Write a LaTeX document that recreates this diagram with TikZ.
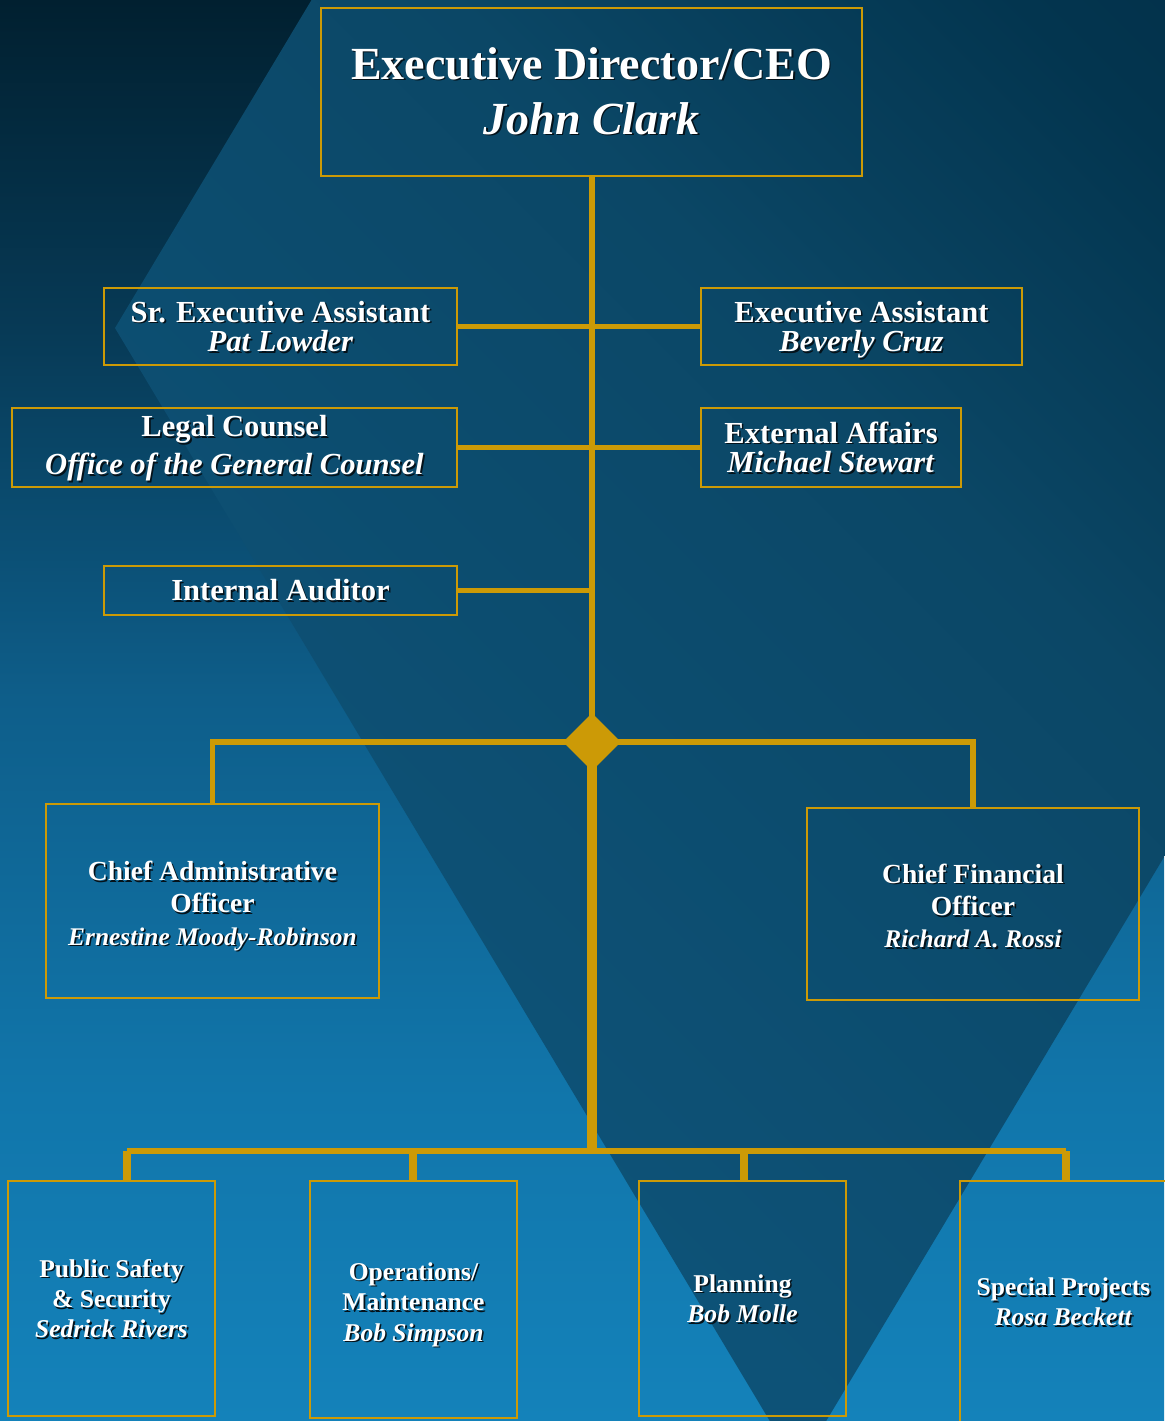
\documentclass[tikz,border=0pt]{standalone}
\usepackage{fontspec}
\setmainfont{Liberation Serif}
\usetikzlibrary{shapes.geometric,fit,calc}

% palette
\definecolor{gold}{HTML}{CC9A06}
\definecolor{txtshadow}{HTML}{05121A}
\definecolor{bgA}{HTML}{012030}
\definecolor{bgB}{HTML}{073A56}
\definecolor{bgC}{HTML}{0E5E8A}
\definecolor{bgD}{HTML}{1176AB}
\definecolor{bgE}{HTML}{1482BA}
\definecolor{rA}{HTML}{0E567C}
\definecolor{rB}{HTML}{0D5277}
\definecolor{rC}{HTML}{0C4A6B}
\definecolor{rD}{HTML}{0B4766}
\definecolor{rE}{HTML}{03354F}
\definecolor{rF}{HTML}{022C44}

% backdrop: vertical blend, dark at the top
\pgfdeclareverticalshading{bgshade}{100bp}{color(0bp)=(bgE); color(25bp)=(bgE);
  color(36.3bp)=(bgD); color(50.4bp)=(bgC); color(63.4bp)=(bgB); color(75bp)=(bgA); color(100bp)=(bgA)}
% large rhombus: darker towards the upper right
\pgfdeclarehorizontalshading{rhombshade}{100bp}{color(0bp)=(rA); color(14.6bp)=(rA);
  color(35.7bp)=(rB); color(48.8bp)=(rC); color(53.4bp)=(rD); color(63bp)=(rE); color(71bp)=(rF); color(100bp)=(rF)}

% text with a small dark drop shadow
\newcommand\shad[1]{\leavevmode\rlap{\kern0.8pt\raisebox{-0.8pt}[0pt][0pt]{\color{txtshadow}#1}}#1}

\tikzset{
  orgbox/.style={draw=gold, line width=1.1pt, inner sep=0pt},
  label text/.style={text=white, align=center, inner sep=0pt, anchor=center},
  ceofont/.style={font=\fontsize{23}{27.5}\selectfont\bfseries},
  midfont/.style={font=\fontsize{15.3}{14.8}\selectfont\bfseries},
  legalfont/.style={font=\fontsize{15.3}{19}\selectfont\bfseries},
  chieffont/.style={font=\fontsize{13.8}{16.2}\selectfont\bfseries},
  lowfont/.style={font=\fontsize{12.8}{15.2}\selectfont\bfseries},
  hubshape/.style={diamond, fill=gold, inner sep=0pt, minimum width=29pt, minimum height=29pt},
  trunkline/.style={draw=gold, line width=3pt},
  lowtrunk/.style={draw=gold, line width=4.6pt},
  branch/.style={draw=gold, line width=2.8pt},
  busline/.style={draw=gold, line width=3.4pt},
  dropline/.style={draw=gold, line width=3.6pt},
}

\begin{document}
\begin{tikzpicture}[x=0.5pt,y=-0.5pt]
\useasboundingbox (0,0) rectangle (1164,1421);

% background
\shade[shading=bgshade] (0,0) rectangle (1164,1421);
\begin{scope}
  \clip (115,328) -- (798,-812) -- (1481,328) -- (798,1468) -- cycle;
  \shade[shading=rhombshade, shading angle=45] (-400,-650) rectangle (1700,1450);
\end{scope}

% boxes
\node[orgbox, fit={(321,8) (862,176)}] (ceo) {};
\node[orgbox, fit={(104,288) (457,365)}] (sea) {};
\node[orgbox, fit={(701,288) (1022,365)}] (ea) {};
\node[orgbox, fit={(12,408) (457,487)}] (legal) {};
\node[orgbox, fit={(701,408) (961,487)}] (ext) {};
\node[orgbox, fit={(104,566) (457,615)}] (ia) {};
\node[orgbox, fit={(46,804) (379,998)}] (cao) {};
\node[orgbox, fit={(807,808) (1139,1000)}] (cfo) {};
\node[orgbox, fit={(8,1181) (215,1416)}] (ps) {};
\node[orgbox, fit={(310,1181) (517,1418)}] (ops) {};
\node[orgbox, fit={(639,1181) (846,1416)}] (plan) {};
\node[orgbox, fit={(960,1181) (1167,1423)}] (spec) {};

% box texts
\node[label text, ceofont] (ceo-t) at ([yshift=0.5pt]ceo.center)
  {\shad{Executive Director/CEO}\\\shad{\textit{John Clark}}};
\node[label text, midfont] (sea-t) at (sea.center)
  {\shad{Sr. Executive Assistant}\\\shad{\textit{Pat Lowder}}};
\node[label text, midfont] (ea-t) at ([yshift=-1.5pt]ea.center)
  {\shad{Executive Assistant}\\\shad{\textit{Beverly Cruz}}};
\node[label text, legalfont] (legal-t) at ([yshift=-0.5pt]legal.center)
  {\shad{Legal Counsel}\\\shad{\textit{Office of the General Counsel}}};
\node[label text, midfont] (ext-t) at (ext.center)
  {\shad{External Affairs}\\\shad{\textit{Michael Stewart}}};
\node[label text, midfont] (ia-t) at (ia.center)
  {\shad{Internal Auditor}};
\node[label text, chieffont] (cao-t) at ([yshift=-2.5pt]cao.center)
  {\shad{Chief Administrative}\\\shad{Officer}\\\shad{\fontsize{12.7}{16.2}\selectfont\textit{Ernestine Moody-Robinson}}};
\node[label text, chieffont] (cfo-t) at ([yshift=-1pt]cfo.center)
  {\shad{Chief Financial}\\\shad{Officer}\\\shad{\fontsize{12.7}{16.2}\selectfont\textit{Richard A. Rossi}}};
\node[label text, lowfont] (ps-t) at (ps.center)
  {\shad{Public Safety}\\\shad{\& Security}\\\shad{\textit{Sedrick Rivers}}};
\node[label text, lowfont] (ops-t) at ([yshift=-2.5pt]ops.center)
  {\shad{Operations/}\\\shad{Maintenance}\\\shad{\textit{Bob Simpson}}};
\node[label text, lowfont] (plan-t) at (plan.center)
  {\shad{Planning}\\\shad{\textit{Bob Molle}}};
\node[label text, lowfont] (spec-t) at (spec.center)
  {\shad{Special Projects}\\\shad{\textit{Rosa Beckett}}};

% junction points
\coordinate (hubpos) at (592,742);
\coordinate (bus) at (592,1151);
\coordinate (d1) at (127,1151);
\coordinate (d2) at (413,1151);
\coordinate (d3) at (744,1151);
\coordinate (d4) at (1066,1151);

% connectors
\draw[trunkline] (hubpos |- ceo.south) -- (hubpos);
\draw[branch] (sea.east) -- (ea.west);
\draw[branch] (legal.east) -- (ext.west);
\draw[branch] (ia.east) -- (ia.east -| hubpos);
\draw[branch] (hubpos) -| (cao.north);
\draw[branch] (hubpos) -| (cfo.north);
\draw[lowtrunk] (hubpos) -- (bus);
\draw[busline] (d1) -- (d4);
\draw[dropline] (d1) -- (d1 |- ps.north);
\draw[dropline] (d2) -- (d2 |- ops.north);
\draw[dropline] (d3) -- (d3 |- plan.north);
\draw[dropline] (d4) -- (d4 |- spec.north);

\node[hubshape] (hub) at (hubpos) {};
\end{tikzpicture}
\end{document}
